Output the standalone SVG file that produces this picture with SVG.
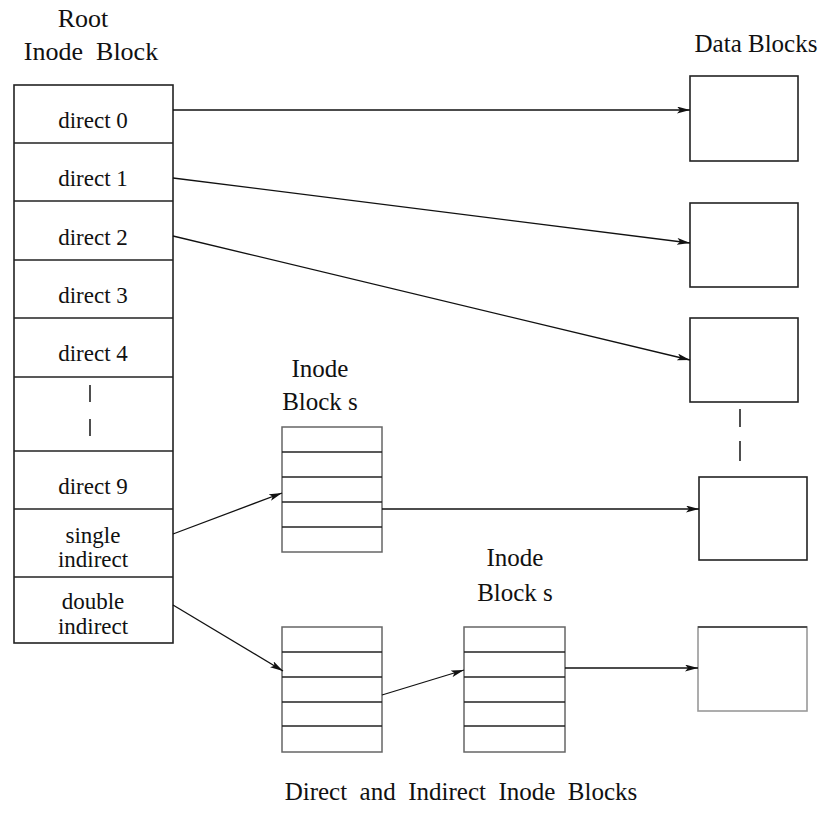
<svg xmlns="http://www.w3.org/2000/svg" width="824" height="829" viewBox="0 0 824 829">
<style>
text{font-family:'Liberation Serif','Times New Roman',Times,'DejaVu Serif',serif;fill:#111;text-anchor:middle}
.t{font-size:25px}
.c{font-size:23px}
.box{fill:#fff;stroke:#222;stroke-width:1.6}
.ib{fill:#fff;stroke:#666;stroke-width:1.5}
.sep{stroke:#222;stroke-width:1.5}
.ln{stroke:#111;stroke-width:1.3;fill:none;marker-end:url(#ah)}
.dash{stroke:#222;stroke-width:1.6}
</style>
<defs>
<marker id="ah" viewBox="0 0 13 7" refX="13" refY="3.5" markerWidth="13" markerHeight="7" markerUnits="userSpaceOnUse" orient="auto">
<path d="M0,0 L13,3.5 L0,7 L3,3.5 Z" fill="#111"/>
</marker>
</defs>
<rect width="824" height="829" fill="#fff"/>

<g id="root-inode">
<text class="t" x="83" y="27" style="font-size:26px">Root</text>
<text class="t" x="91" y="60" style="font-size:26px" xml:space="preserve">Inode  Block</text>
<rect class="box" x="14" y="85" width="159" height="558"/>
<line class="sep" x1="14" y1="143" x2="173" y2="143"/>
<line class="sep" x1="14" y1="201" x2="173" y2="201"/>
<line class="sep" x1="14" y1="260" x2="173" y2="260"/>
<line class="sep" x1="14" y1="318" x2="173" y2="318"/>
<line class="sep" x1="14" y1="377" x2="173" y2="377"/>
<line class="sep" x1="14" y1="451" x2="173" y2="451"/>
<line class="sep" x1="14" y1="509" x2="173" y2="509"/>
<line class="sep" x1="14" y1="577" x2="173" y2="577"/>
<text class="c" x="93" y="128">direct 0</text>
<text class="c" x="93" y="186">direct 1</text>
<text class="c" x="93" y="245">direct 2</text>
<text class="c" x="93" y="303">direct 3</text>
<text class="c" x="93" y="361">direct 4</text>
<line class="dash" x1="90" y1="385" x2="90" y2="402"/>
<line class="dash" x1="90" y1="419" x2="90" y2="436"/>
<text class="c" x="93" y="494">direct 9</text>
<text class="c" x="93" y="543">single</text>
<text class="c" x="93" y="567">indirect</text>
<text class="c" x="93" y="609">double</text>
<text class="c" x="93" y="634">indirect</text>
</g>

<g id="data-blocks">
<text class="t" x="756" y="52">Data Blocks</text>
<rect class="box" x="690" y="76" width="108" height="85"/>
<rect class="box" x="690" y="203" width="108" height="84"/>
<rect class="box" x="690" y="318" width="108" height="84"/>
<line class="dash" x1="740" y1="409" x2="740" y2="427"/>
<line class="dash" x1="740" y1="441" x2="740" y2="461"/>
<rect class="box" x="699" y="477" width="108" height="83"/>
<rect x="698" y="627" width="109" height="84" fill="#fff" stroke="#999" stroke-width="1.6"/>
<line x1="698" y1="627" x2="807" y2="627" stroke="#333" stroke-width="1.6"/>
</g>

<g id="inode-blocks-1">
<text class="t" x="320" y="377">Inode</text>
<text class="t" x="320" y="410">Block s</text>
<rect class="ib" x="282" y="427" width="100" height="125"/>
<line class="sep" x1="282" y1="452" x2="382" y2="452"/>
<line class="sep" x1="282" y1="477" x2="382" y2="477"/>
<line class="sep" x1="282" y1="502" x2="382" y2="502"/>
<line class="sep" x1="282" y1="527" x2="382" y2="527"/>
</g>

<g id="inode-blocks-2a">
<rect class="ib" x="282" y="627" width="100" height="125"/>
<line class="sep" x1="282" y1="652" x2="382" y2="652"/>
<line class="sep" x1="282" y1="677" x2="382" y2="677"/>
<line class="sep" x1="282" y1="702" x2="382" y2="702"/>
<line class="sep" x1="282" y1="726" x2="382" y2="726"/>
</g>

<g id="inode-blocks-2b">
<text class="t" x="515" y="566">Inode</text>
<text class="t" x="515" y="601">Block s</text>
<rect class="ib" x="464" y="627" width="101" height="125"/>
<line class="sep" x1="464" y1="652" x2="565" y2="652"/>
<line class="sep" x1="464" y1="677" x2="565" y2="677"/>
<line class="sep" x1="464" y1="702" x2="565" y2="702"/>
<line class="sep" x1="464" y1="726" x2="565" y2="726"/>
</g>

<g id="connectors">
<line class="ln" x1="173" y1="110" x2="690" y2="110"/>
<line class="ln" x1="173" y1="178" x2="690" y2="243"/>
<line class="ln" x1="173" y1="236" x2="690" y2="360"/>
<line class="ln" x1="173" y1="534" x2="282" y2="493"/>
<line class="ln" x1="382" y1="509" x2="699" y2="509"/>
<line class="ln" x1="173" y1="605" x2="283" y2="671"/>
<line class="ln" x1="382" y1="695" x2="464" y2="670"/>
<line class="ln" x1="565" y1="668" x2="698" y2="668"/>
</g>

<text class="t" x="461" y="800" xml:space="preserve">Direct  and  Indirect  Inode  Blocks</text>
</svg>
